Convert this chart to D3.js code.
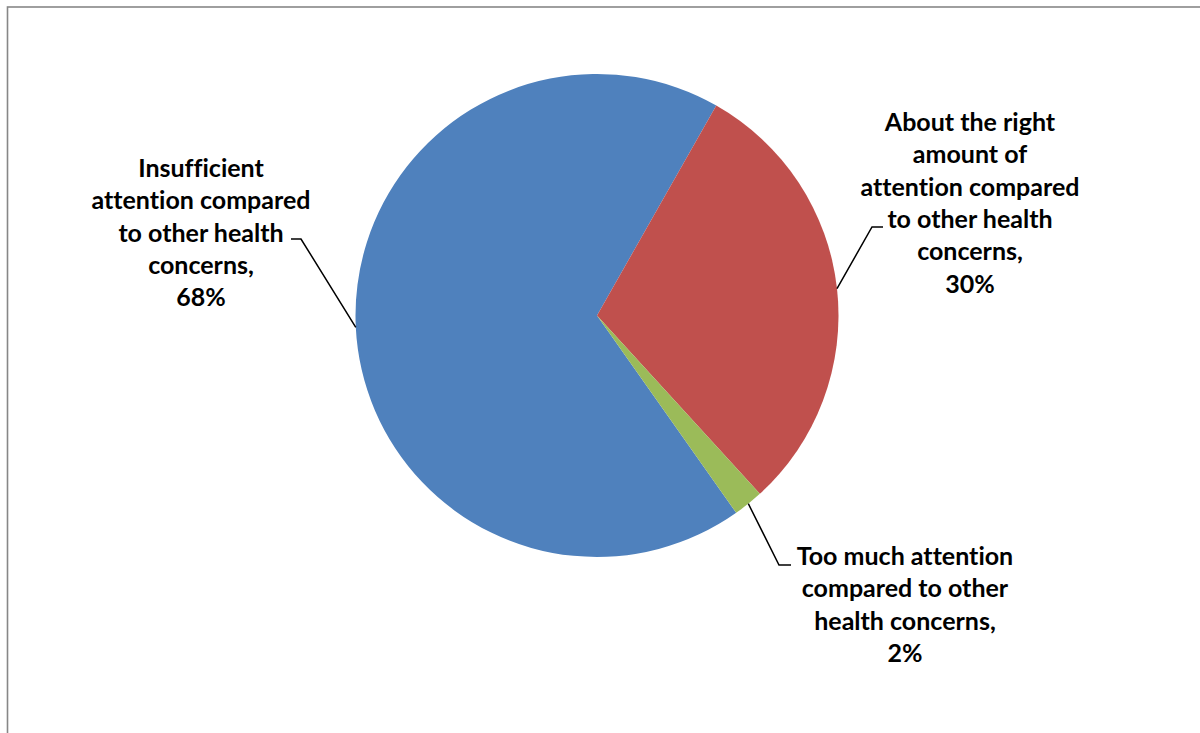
<!DOCTYPE html>
<html>
<head>
<meta charset="utf-8">
<script src="https://cdn.jsdelivr.net/npm/d3@7"></script>
<style>
  html, body { margin: 0; padding: 0; background: #ffffff; }
  svg { display: block; }
  .lbl { font-family: Lato, "Liberation Sans", sans-serif; font-weight: 700; fill: #000;
         font-variant-ligatures: none; font-feature-settings: "liga" 0, "dlig" 0; }
</style>
</head>
<body>
<svg id="chart" width="1200" height="733"></svg>
<script>
// Survey answers and their shares (%)
const categories = [
  "Insufficient attention compared to other health concerns",
  "About the right amount of attention compared to other health concerns",
  "Too much attention compared to other health concerns"
];
const values = [68, 30, 2];
const colors = ["#4F81BD", "#C0504D", "#9BBB59"];

// Label text broken into lines as displayed
const labelLines = [
  ["Insufficient", "attention compared", "to other health", "concerns,", "68%"],
  ["About the right", "amount of", "attention compared", "to other health", "concerns,", "30%"],
  ["Too much attention", "compared to other", "health concerns,", "2%"]
];

// Layout: label block centres, first baselines, leader elbows
const labelPos = [
  { x: 201, y: 177, elbow: [301, 239], end: [291, 239] },
  { x: 970, y: 131, elbow: [872, 227], end: [883, 227] },
  { x: 905, y: 565, elbow: [779, 565], end: [791, 565] }
];

const W = 1200, H = 733;
const cx = 597, cy = 315.5, R = 241.5;
const lineGap = 32.3;

const svg = d3.select("#chart");

// Chart-area frame (only top and left edges fall inside the view)
svg.append("rect")
  .attr("x", 7.5).attr("y", 7)
  .attr("width", W + 20).attr("height", H + 20)
  .attr("fill", "none")
  .attr("stroke", "#878787")
  .attr("stroke-width", 1.6);

const data = categories.map((c, i) => ({ name: c, value: values[i], color: colors[i], lines: labelLines[i], pos: labelPos[i] }));

const start = 144.8 * Math.PI / 180;
const pie = d3.pie().sort(null).value(d => d.value)
  .startAngle(start).endAngle(start + 2 * Math.PI);
const arcs = pie(data);
const arc = d3.arc().innerRadius(0).outerRadius(R);

const g = svg.append("g").attr("transform", `translate(${cx},${cy})`);
g.selectAll("path.slice")
  .data(arcs)
  .join("path")
  .attr("class", "slice")
  .attr("d", arc)
  .attr("fill", d => d.data.color);

// Leader lines from slice edge midpoint to label
svg.selectAll("path.leader")
  .data(arcs)
  .join("path")
  .attr("class", "leader")
  .attr("fill", "none")
  .attr("stroke", "#000")
  .attr("stroke-width", 1.5)
  .attr("d", d => {
    const a = (d.startAngle + d.endAngle) / 2;
    const px = cx + R * Math.sin(a), py = cy - R * Math.cos(a);
    const p = d.data.pos;
    return d3.line()([[px, py], p.elbow, p.end]);
  });

// Data labels
const labels = svg.selectAll("text.lbl")
  .data(arcs)
  .join("text")
  .attr("class", "lbl")
  .attr("text-anchor", "middle")
  .attr("font-size", 25);
labels.each(function(d) {
  const t = d3.select(this);
  d.data.lines.forEach((ln, i) => {
    t.append("tspan")
      .attr("x", d.data.pos.x)
      .attr("y", d.data.pos.y + i * lineGap)
      .text(ln);
  });
});
</script>
</body>
</html>
